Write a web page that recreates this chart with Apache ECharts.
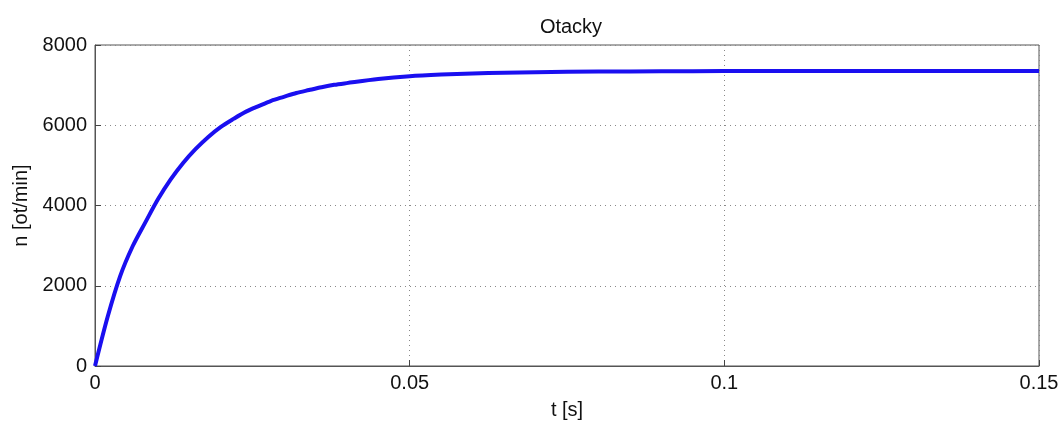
<!DOCTYPE html>
<html>
<head>
<meta charset="utf-8">
<script src="https://cdn.jsdelivr.net/npm/echarts@6/dist/echarts.min.js"></script>
<style>
  html, body { margin: 0; padding: 0; background: #fff; }
  #main { width: 1064px; height: 425px; }
</style>
</head>
<body>
<div id="main"></div>
<script>
// time [s] and speed [ot/min]
var times = [0, 0.002, 0.004, 0.006, 0.008, 0.01, 0.012, 0.014, 0.016, 0.018, 0.02,
  0.022, 0.024, 0.026, 0.028, 0.03, 0.032, 0.034, 0.036, 0.038, 0.04,
  0.045, 0.05, 0.055, 0.06, 0.065, 0.07, 0.08, 0.09, 0.1,
  0.11, 0.12, 0.13, 0.14, 0.15];
var speed = [0, 1220, 2240, 2990, 3580, 4155, 4645, 5060, 5410, 5710, 5960,
  6158, 6339, 6477, 6609, 6708, 6805, 6877, 6947, 7007, 7050,
  7150, 7220, 7262, 7292, 7310, 7322, 7337, 7345, 7350,
  7352, 7352, 7352, 7352, 7352];
var yTicks = { min: 0, max: 8000, step: 2000 };
var xTicks = { min: 0, max: 0.15, step: 0.05 };

var points = times.map(function (t, i) { return [t, speed[i]]; });
var font = "Liberation Sans, Arial, sans-serif";

var chart = echarts.init(document.getElementById("main"));
chart.setOption({
  animation: false,
  backgroundColor: "#fff",
  title: {
    text: "Otacky",
    left: 566,
    top: 12,
    textAlign: "center",
    textStyle: { fontFamily: font, fontSize: 20, fontWeight: "normal", color: "#111" }
  },
  grid: {
    left: 95, right: 25, top: 45, bottom: 58,
    show: true, borderColor: "#555", borderWidth: 1
  },
  xAxis: {
    type: "value",
    min: xTicks.min, max: xTicks.max, interval: xTicks.step,
    name: "t [s]",
    nameLocation: "middle",
    nameGap: 34,
    nameTextStyle: { fontFamily: font, fontSize: 20, color: "#111" },
    axisLine: { lineStyle: { color: "#555" } },
    axisTick: { inside: true, length: 6, lineStyle: { color: "#444" } },
    axisLabel: {
      fontFamily: font, fontSize: 20, color: "#111", margin: 7,
      formatter: function (v) { return String(+v.toFixed(2)); }
    },
    splitLine: { show: true, lineStyle: { color: "#888", type: [1, 4] } }
  },
  yAxis: {
    type: "value",
    min: yTicks.min, max: yTicks.max, interval: yTicks.step,
    name: "n [ot/min]",
    nameLocation: "middle",
    nameGap: 61,
    nameTextStyle: { fontFamily: font, fontSize: 20, color: "#111" },
    axisLine: { show: true, lineStyle: { color: "#555" } },
    axisTick: { show: true, inside: true, length: 6, lineStyle: { color: "#444" } },
    axisLabel: {
      fontFamily: font, fontSize: 20, color: "#111", margin: 8,
      formatter: function (v) { return String(v); }
    },
    splitLine: { show: true, lineStyle: { color: "#888", type: [1, 4] } }
  },
  series: [{
    type: "line",
    data: points,
    smooth: 0.3,
    symbol: "none",
    lineStyle: { color: "#1a0ff0", width: 4, join: "round" }
  }]
});
</script>
</body>
</html>
